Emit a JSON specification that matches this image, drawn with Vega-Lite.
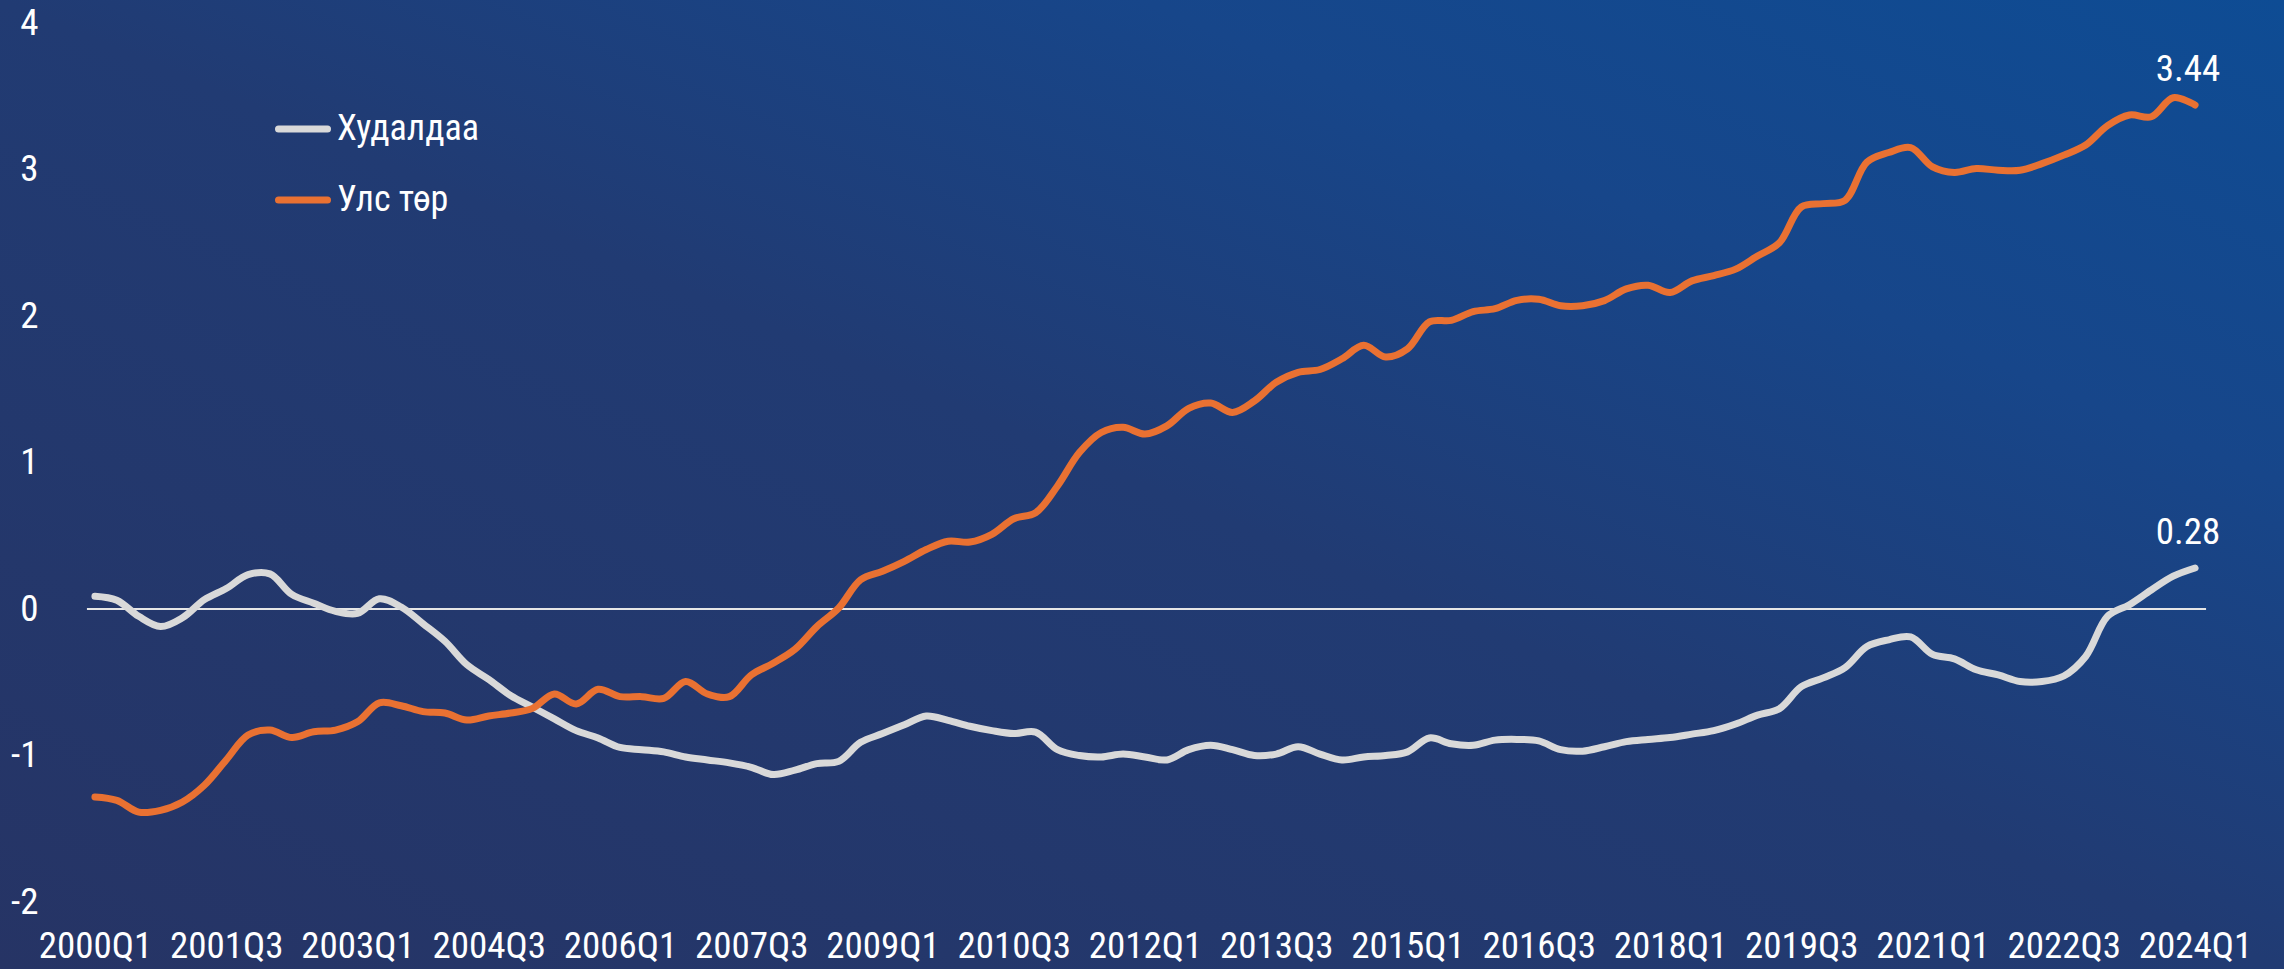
{
  "$schema": "https://vega.github.io/schema/vega-lite/v6.json",
  "width": 2284,
  "height": 969,
  "autosize": {"type": "none"},
  "padding": 0,
  "background": "#22376e",
  "config": {
    "font": "Roboto Condensed, Liberation Sans Narrow, sans-serif",
    "view": {
      "stroke": null,
      "fill": {
        "gradient": "linear",
        "x1": 1, "y1": 0, "x2": 0, "y2": 1,
        "stops": [
          {"offset": 0, "color": "#0e4c94"},
          {"offset": 0.25, "color": "#17468a"},
          {"offset": 0.5, "color": "#213b73"},
          {"offset": 1, "color": "#263465"}
        ]
      }
    },
    "axis": {
      "domain": false, "ticks": false, "grid": false,
      "labelFontSize": 37, "labelColor": "#ffffff", "labelPadding": 0,
      "labelFlush": false, "labelOverlap": false
    },
    "axisX": {
      "labelAngle": 0, "labelAlign": "center", "labelBaseline": "alphabetic", "offset": -12
    },
    "axisY": {
      "labelAlign": "right", "labelBaseline": "middle", "offset": -38,
      "labelExpr": "replace(datum.label, '\u2212', '-')"
    }
  },
  "layer": [
    {
      "data": {"values": [{"zero": 0}]},
      "mark": {"type": "rule", "color": "#e6e6e6", "strokeWidth": 2, "xOffset": -8, "x2Offset": 11},
      "encoding": {
        "x": {"datum": "2000Q1", "type": "ordinal",
          "axis": {"title": null, "values": ["2000Q1","2001Q3","2003Q1","2004Q3","2006Q1","2007Q3","2009Q1","2010Q3","2012Q1","2013Q3","2015Q1","2016Q3","2018Q1","2019Q3","2021Q1","2022Q3","2024Q1"]}},
        "x2": {"datum": "2024Q1"},
        "y": {"field": "zero", "type": "quantitative",
          "axis": {"title": null, "values": [-2, -1, 0, 1, 2, 3, 4], "format": "d"}}
      }
    },
    {
      "data": {
        "values": [
          {"q": "2000Q1", "Худалдаа": 0.087, "Улс төр": -1.283},
          {"q": "2000Q2", "Худалдаа": 0.06, "Улс төр": -1.306},
          {"q": "2000Q3", "Худалдаа": -0.05, "Улс төр": -1.386},
          {"q": "2000Q4", "Худалдаа": -0.12, "Улс төр": -1.374},
          {"q": "2001Q1", "Худалдаа": -0.06, "Улс төр": -1.317},
          {"q": "2001Q2", "Худалдаа": 0.064, "Улс төр": -1.203},
          {"q": "2001Q3", "Худалдаа": 0.14, "Улс төр": -1.03},
          {"q": "2001Q4", "Худалдаа": 0.235, "Улс төр": -0.86},
          {"q": "2002Q1", "Худалдаа": 0.24, "Улс төр": -0.826},
          {"q": "2002Q2", "Худалдаа": 0.1, "Улс төр": -0.877},
          {"q": "2002Q3", "Худалдаа": 0.04, "Улс төр": -0.838},
          {"q": "2002Q4", "Худалдаа": -0.016, "Улс төр": -0.826},
          {"q": "2003Q1", "Худалдаа": -0.03, "Улс төр": -0.77},
          {"q": "2003Q2", "Худалдаа": 0.07, "Улс төр": -0.64},
          {"q": "2003Q3", "Худалдаа": 0.014, "Улс төр": -0.66},
          {"q": "2003Q4", "Худалдаа": -0.1, "Улс төр": -0.7},
          {"q": "2004Q1", "Худалдаа": -0.22, "Улс төр": -0.71},
          {"q": "2004Q2", "Худалдаа": -0.38, "Улс төр": -0.758},
          {"q": "2004Q3", "Худалдаа": -0.48, "Улс төр": -0.73},
          {"q": "2004Q4", "Худалдаа": -0.59, "Улс төр": -0.71},
          {"q": "2005Q1", "Худалдаа": -0.67, "Улс төр": -0.678},
          {"q": "2005Q2", "Худалдаа": -0.75, "Улс төр": -0.58},
          {"q": "2005Q3", "Худалдаа": -0.83, "Улс төр": -0.648},
          {"q": "2005Q4", "Худалдаа": -0.88, "Улс төр": -0.548},
          {"q": "2006Q1", "Худалдаа": -0.945, "Улс төр": -0.598},
          {"q": "2006Q2", "Худалдаа": -0.96, "Улс төр": -0.598},
          {"q": "2006Q3", "Худалдаа": -0.975, "Улс төр": -0.61},
          {"q": "2006Q4", "Худалдаа": -1.01, "Улс төр": -0.495},
          {"q": "2007Q1", "Худалдаа": -1.03, "Улс төр": -0.58},
          {"q": "2007Q2", "Худалдаа": -1.05, "Улс төр": -0.598},
          {"q": "2007Q3", "Худалдаа": -1.08, "Улс төр": -0.45},
          {"q": "2007Q4", "Худалдаа": -1.13, "Улс төр": -0.37},
          {"q": "2008Q1", "Худалдаа": -1.1, "Улс төр": -0.275},
          {"q": "2008Q2", "Худалдаа": -1.055, "Улс төр": -0.12},
          {"q": "2008Q3", "Худалдаа": -1.04, "Улс төр": 0.007},
          {"q": "2008Q4", "Худалдаа": -0.91, "Улс төр": 0.2},
          {"q": "2009Q1", "Худалдаа": -0.85, "Улс төр": 0.258},
          {"q": "2009Q2", "Худалдаа": -0.79, "Улс төр": 0.326},
          {"q": "2009Q3", "Худалдаа": -0.73, "Улс төр": 0.406},
          {"q": "2009Q4", "Худалдаа": -0.76, "Улс төр": 0.463},
          {"q": "2010Q1", "Худалдаа": -0.8, "Улс төр": 0.457},
          {"q": "2010Q2", "Худалдаа": -0.83, "Улс төр": 0.51},
          {"q": "2010Q3", "Худалдаа": -0.85, "Улс төр": 0.616},
          {"q": "2010Q4", "Худалдаа": -0.84, "Улс төр": 0.657},
          {"q": "2011Q1", "Худалдаа": -0.96, "Улс төр": 0.84},
          {"q": "2011Q2", "Худалдаа": -1.0, "Улс төр": 1.068},
          {"q": "2011Q3", "Худалдаа": -1.01, "Улс төр": 1.205},
          {"q": "2011Q4", "Худалдаа": -0.99, "Улс төр": 1.24},
          {"q": "2012Q1", "Худалдаа": -1.01, "Улс төр": 1.194},
          {"q": "2012Q2", "Худалдаа": -1.03, "Улс төр": 1.25},
          {"q": "2012Q3", "Худалдаа": -0.96, "Улс төр": 1.37},
          {"q": "2012Q4", "Худалдаа": -0.93, "Улс төр": 1.406},
          {"q": "2013Q1", "Худалдаа": -0.96, "Улс төр": 1.342},
          {"q": "2013Q2", "Худалдаа": -1.0, "Улс төр": 1.42},
          {"q": "2013Q3", "Худалдаа": -0.99, "Улс төр": 1.548},
          {"q": "2013Q4", "Худалдаа": -0.94, "Улс төр": 1.616},
          {"q": "2014Q1", "Худалдаа": -0.99, "Улс төр": 1.635},
          {"q": "2014Q2", "Худалдаа": -1.03, "Улс төр": 1.708},
          {"q": "2014Q3", "Худалдаа": -1.01, "Улс төр": 1.8},
          {"q": "2014Q4", "Худалдаа": -1.0, "Улс төр": 1.72},
          {"q": "2015Q1", "Худалдаа": -0.975, "Улс төр": 1.776},
          {"q": "2015Q2", "Худалдаа": -0.88, "Улс төр": 1.96},
          {"q": "2015Q3", "Худалдаа": -0.92, "Улс төр": 1.97},
          {"q": "2015Q4", "Худалдаа": -0.93, "Улс төр": 2.03},
          {"q": "2016Q1", "Худалдаа": -0.895, "Улс төр": 2.05},
          {"q": "2016Q2", "Худалдаа": -0.89, "Улс төр": 2.107},
          {"q": "2016Q3", "Худалдаа": -0.9, "Улс төр": 2.114},
          {"q": "2016Q4", "Худалдаа": -0.96, "Улс төр": 2.07},
          {"q": "2017Q1", "Худалдаа": -0.97, "Улс төр": 2.07},
          {"q": "2017Q2", "Худалдаа": -0.94, "Улс төр": 2.105},
          {"q": "2017Q3", "Худалдаа": -0.905, "Улс төр": 2.185},
          {"q": "2017Q4", "Худалдаа": -0.89, "Улс төр": 2.21},
          {"q": "2018Q1", "Худалдаа": -0.877, "Улс төр": 2.16},
          {"q": "2018Q2", "Худалдаа": -0.854, "Улс төр": 2.24},
          {"q": "2018Q3", "Худалдаа": -0.83, "Улс төр": 2.276},
          {"q": "2018Q4", "Худалдаа": -0.785, "Улс төр": 2.32},
          {"q": "2019Q1", "Худалдаа": -0.724, "Улс төр": 2.41},
          {"q": "2019Q2", "Худалдаа": -0.68, "Улс төр": 2.5},
          {"q": "2019Q3", "Худалдаа": -0.53, "Улс төр": 2.744},
          {"q": "2019Q4", "Худалдаа": -0.47, "Улс төр": 2.767},
          {"q": "2020Q1", "Худалдаа": -0.4, "Улс төр": 2.79},
          {"q": "2020Q2", "Худалдаа": -0.256, "Улс төр": 3.05},
          {"q": "2020Q3", "Худалдаа": -0.21, "Улс төр": 3.116},
          {"q": "2020Q4", "Худалдаа": -0.19, "Улс төр": 3.15},
          {"q": "2021Q1", "Худалдаа": -0.31, "Улс төр": 3.018},
          {"q": "2021Q2", "Худалдаа": -0.34, "Улс төр": 2.98},
          {"q": "2021Q3", "Худалдаа": -0.415, "Улс төр": 3.007},
          {"q": "2021Q4", "Худалдаа": -0.45, "Улс төр": 2.995},
          {"q": "2022Q1", "Худалдаа": -0.495, "Улс төр": 2.995},
          {"q": "2022Q2", "Худалдаа": -0.495, "Улс төр": 3.04},
          {"q": "2022Q3", "Худалдаа": -0.457, "Улс төр": 3.098},
          {"q": "2022Q4", "Худалдаа": -0.324, "Улс төр": 3.167},
          {"q": "2023Q1", "Худалдаа": -0.05, "Улс төр": 3.3},
          {"q": "2023Q2", "Худалдаа": 0.03, "Улс төр": 3.372},
          {"q": "2023Q3", "Худалдаа": 0.13, "Улс төр": 3.36},
          {"q": "2023Q4", "Худалдаа": 0.224, "Улс төр": 3.49},
          {"q": "2024Q1", "Худалдаа": 0.28, "Улс төр": 3.44}
        ]
      },
      "transform": [{"fold": ["Худалдаа", "Улс төр"], "as": ["series", "value"]}],
      "layer": [
        {
          "mark": {"type": "line", "interpolate": "catmull-rom", "strokeWidth": 7, "strokeCap": "round", "strokeJoin": "round"},
          "encoding": {
            "x": {
              "field": "q", "type": "ordinal",
              "scale": {"type": "point", "range": [84, 2206]},
              "axis": {"title": null, "values": ["2000Q1","2001Q3","2003Q1","2004Q3","2006Q1","2007Q3","2009Q1","2010Q3","2012Q1","2013Q3","2015Q1","2016Q3","2018Q1","2019Q3","2021Q1","2022Q3","2024Q1"]}
            },
            "y": {
              "field": "value", "type": "quantitative",
              "scale": {"domain": [-2.457, 4.157], "nice": false, "zero": false},
              "axis": {"title": null, "values": [-2, -1, 0, 1, 2, 3, 4], "format": "d"}
            },
            "color": {
              "field": "series", "type": "nominal",
              "scale": {"domain": ["Худалдаа", "Улс төр"], "range": ["#d9d9d9", "#e97132"]},
              "legend": {
                "title": null, "orient": "none", "legendX": 275, "legendY": 101,
                "symbolType": "stroke", "symbolSize": 2401, "symbolStrokeWidth": 7,
                "labelFontSize": 36, "labelColor": "#ffffff", "labelOffset": 6,
                "rowPadding": 25, "padding": 0,
                "encode": {"symbols": {"update": {"strokeCap": {"value": "round"}}}}
              }
            }
          }
        },
        {
          "transform": [{"filter": "datum.q === '2024Q1'"}],
          "mark": {"type": "text", "align": "center", "baseline": "alphabetic", "dx": -7, "dy": -24, "fontSize": 37, "color": "#ffffff"},
          "encoding": {
            "x": {"field": "q", "type": "ordinal",
              "axis": {"title": null, "values": ["2000Q1","2001Q3","2003Q1","2004Q3","2006Q1","2007Q3","2009Q1","2010Q3","2012Q1","2013Q3","2015Q1","2016Q3","2018Q1","2019Q3","2021Q1","2022Q3","2024Q1"]}},
            "y": {"field": "value", "type": "quantitative",
              "axis": {"title": null, "values": [-2, -1, 0, 1, 2, 3, 4], "format": "d"}},
            "text": {"field": "value", "type": "quantitative", "format": ".2f"}
          }
        }
      ]
    }
  ]
}
